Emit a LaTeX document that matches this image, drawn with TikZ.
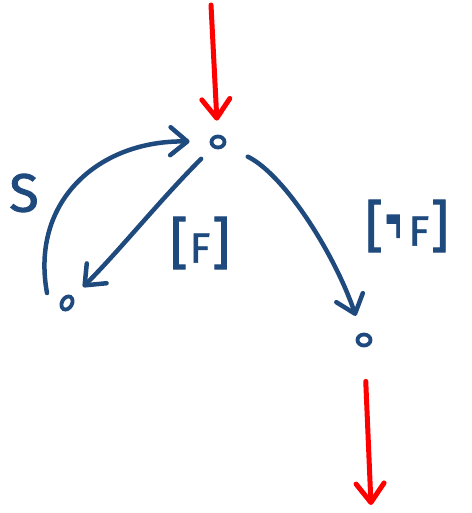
\documentclass[tikz,border=0pt]{standalone}
\usepackage{fontspec}
\setmainfont{Fira Sans}
\newfontfamily\handfont[FakeBold=1.6]{Fira Sans}
\usetikzlibrary{arrows.meta,shapes.geometric}
\definecolor{pen}{HTML}{1F4A7E}
\definecolor{redpen}{HTML}{FF0000}
\begin{document}
\begin{tikzpicture}[x=1pt,y=-1pt,
  state/.style={ellipse, draw=pen, line width=3.8pt, minimum width=13pt, minimum height=11pt, inner sep=0pt},
  tipb/.tip={Straight Barb[length=17pt,width=28pt,line width=4.5pt,round]},
  bluearr/.style={draw=pen, line width=4.5pt, line cap=round, -{tipb}},
  redarr/.style={draw=redpen, line width=5pt, line cap=round, -{Straight Barb[length=19pt,width=28pt,line width=5pt,round]}},
  lbl/.style={text=pen, inner sep=0pt}]
\useasboundingbox (0,0) rectangle (471,513);
\node[state] (T) at (218,142) {};
\node[state, rotate=60, minimum width=14pt, minimum height=10pt] (L) at (67,303) {};
\node[state] (R) at (364,340) {};
\coordinate (rt) at (211,5);
\coordinate (rb) at (371,505);
% red in / out
\draw[redarr, shorten >=14pt] (rt) -- (T);
\draw[redarr, shorten <=34pt] (R) -- (rb);
% S loop
\draw[bluearr, shorten >=20pt] ([shift={(-20,-10)}]L.center) .. controls (30,200) and (100,140) .. (T);
% [F]
\draw[bluearr, shorten <=16pt, shorten >=14pt] (T) .. controls (160,200) and (120,250) .. (L);
% [not F]
\draw[bluearr, shorten <=25pt, shorten >=18pt] (T) .. controls (285,175) and (335,255) .. (R);
% labels
\node[lbl, font=\handfont\fontsize{54}{54}\selectfont] (s) at (24,193) {S};
\node[lbl, font=\handfont] (f) at (200,243) {{\fontsize{56}{56}\selectfont[}\,{\fontsize{42}{42}\selectfont F}\,{\fontsize{56}{56}\selectfont]}};
\node[lbl, font=\handfont] (nf) at (407,226) {{\fontsize{56}{56}\selectfont[}\,{\fontsize{42}{42}\selectfont\raisebox{-6pt}{\scalebox{0.8}[2.4]{¬}}\,F}\,{\fontsize{56}{56}\selectfont]}};
\end{tikzpicture}
\end{document}
